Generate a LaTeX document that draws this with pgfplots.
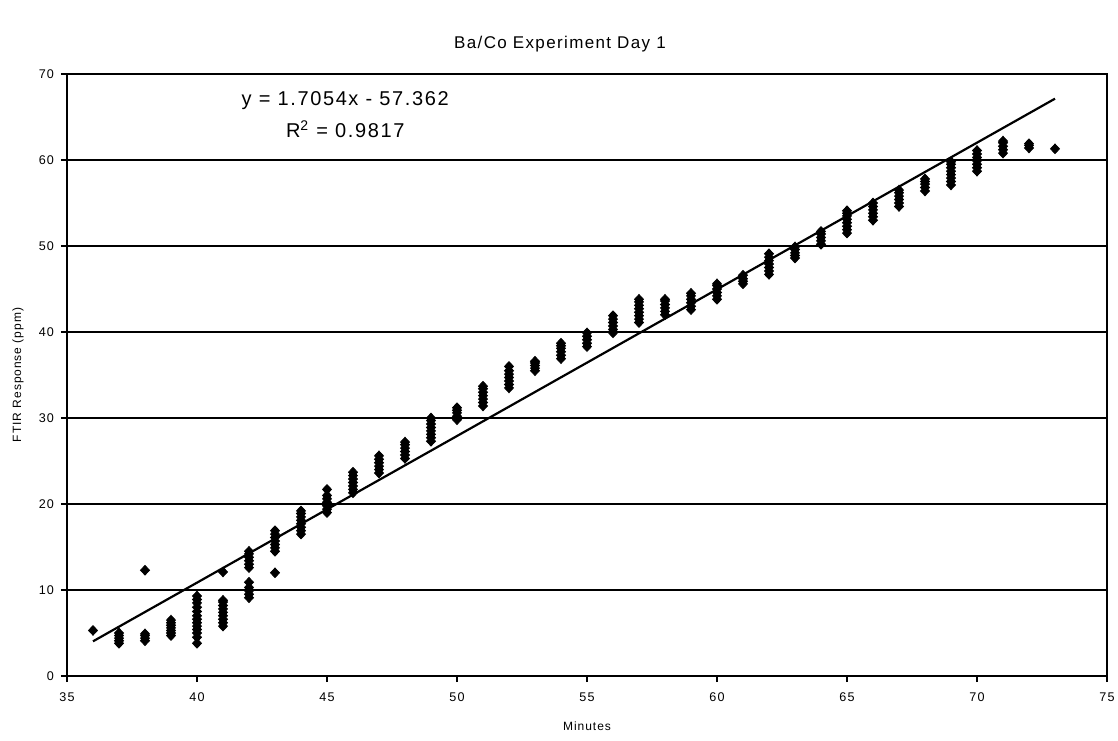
\documentclass[border=0pt]{standalone}
\usepackage{fontspec}
\setmainfont{Liberation Sans}[LetterSpace=8]
\usepackage{pgfplots}
\pgfplotsset{compat=1.18}
\pgfplotstableread{
x y
36 5.3
37 3.8
37 4.1
37 4.4
37 4.7
37 5.0
38 4.1
38 4.4
38 4.7
38 4.9
38 12.3
39 4.7
39 5.0
39 5.3
39 5.6
39 5.9
39 6.2
39 6.5
40 3.8
40 4.5
40 5.0
40 5.4
40 5.8
40 6.2
40 6.6
40 7.0
40 7.5
40 8.0
40 8.5
40 8.9
40 9.3
41 5.8
41 6.2
41 6.6
41 7.0
41 7.4
41 7.8
41 8.2
41 8.6
41 8.8
41 12.1
42 9.1
42 9.5
42 9.9
42 10.3
42 10.9
42 12.6
42 13.0
42 13.4
42 13.8
42 14.2
42 14.5
43 12.0
43 14.5
43 14.9
43 15.3
43 15.7
43 16.1
43 16.5
43 16.9
44 16.5
44 16.9
44 17.3
44 17.7
44 18.1
44 18.5
44 18.9
44 19.2
45 19.0
45 19.4
45 19.8
45 20.2
45 20.6
45 21.0
45 21.7
46 21.3
46 21.7
46 22.1
46 22.5
46 22.9
46 23.3
46 23.7
47 23.6
47 24.0
47 24.4
47 24.8
47 25.2
47 25.6
48 25.3
48 25.7
48 26.1
48 26.5
48 26.9
48 27.2
49 27.3
49 27.7
49 28.1
49 28.5
49 28.9
49 29.3
49 29.7
49 30.0
50 29.8
50 30.2
50 30.6
50 30.9
50 31.2
51 31.4
51 31.8
51 32.2
51 32.6
51 33.0
51 33.4
51 33.7
52 33.5
52 33.9
52 34.3
52 34.7
52 35.1
52 35.5
52 36.0
53 35.5
53 35.8
53 36.1
53 36.4
53 36.6
54 36.9
54 37.3
54 37.7
54 38.1
54 38.4
54 38.7
55 38.3
55 38.7
55 39.1
55 39.5
55 39.9
56 39.9
56 40.3
56 40.7
56 41.1
56 41.5
56 41.9
57 41.1
57 41.5
57 41.9
57 42.3
57 42.7
57 43.1
57 43.5
57 43.8
58 42.0
58 42.4
58 42.8
58 43.2
58 43.6
58 43.8
59 42.6
59 43.0
59 43.4
59 43.8
59 44.2
59 44.5
60 43.8
60 44.2
60 44.6
60 45.0
60 45.4
60 45.6
61 45.6
61 45.9
61 46.2
61 46.6
62 46.7
62 47.1
62 47.5
62 47.9
62 48.3
62 48.7
62 49.1
63 48.6
63 48.9
63 49.2
63 49.6
63 49.9
64 50.2
64 50.6
64 51.0
64 51.4
64 51.7
65 51.5
65 51.9
65 52.3
65 52.7
65 53.1
65 53.5
65 53.8
65 54.1
66 53.0
66 53.4
66 53.8
66 54.2
66 54.6
66 55.0
67 54.6
67 55.0
67 55.4
67 55.8
67 56.2
67 56.5
68 56.4
68 56.8
68 57.2
68 57.5
68 57.8
69 57.1
69 57.5
69 57.9
69 58.3
69 58.7
69 59.1
69 59.5
69 59.8
70 58.7
70 59.1
70 59.5
70 59.9
70 60.3
70 60.7
70 61.1
71 60.8
71 61.2
71 61.6
71 62.0
71 62.2
72 61.4
72 61.7
72 61.9
73 61.3
}\datatable
\begin{document}
\begin{tikzpicture}
\path[use as bounding box] (0,0) rectangle (559pt,370pt);
\begin{axis}[
  at={(33.5pt,32pt)}, anchor=south west,
  scale only axis, width=520pt, height=301pt,
  xmin=35, xmax=75, ymin=0, ymax=70,
  xtick={35,40,...,75}, ytick={0,10,...,70},
  tick align=outside, xtick pos=bottom, ytick pos=left,
  major tick length=3pt,
  ymajorgrids, grid style={black, line width=0.6pt},
  axis line style={black, line width=0.7pt},
  tick style={black, line width=0.6pt},
  ticklabel style={font=\fontsize{6.3}{7}\selectfont},
  xticklabel style={yshift=-2pt},
  /pgf/number format/assume math mode=true,
  xlabel={Minutes}, ylabel={FTIR Response (ppm)},
  label style={font=\fontsize{6}{7}\selectfont},
  xlabel style={at={(axis description cs:0.5,-0.083)}, anchor=center},
  ylabel style={at={(axis description cs:-0.047,0.5)}, anchor=center},
  title={Ba/Co Experiment Day 1},
  title style={at={(axis description cs:0.474,1.03)}, anchor=center, font=\fontsize{8.5}{9}\selectfont},
  clip=false,
]
\addplot[only marks, mark=diamond*, mark size=2.4pt, mark options={xscale=1.25, fill=black, draw=black}] table[x=x, y=y] {\datatable};
\addplot[black, line width=1.1pt] coordinates {(36,4.032) (73,67.132)};
\node[font=\fontsize{10}{12}\selectfont] at (axis cs:45.7,66.9) {y = 1.7054x - 57.362};
\node[font=\fontsize{10}{12}\selectfont] at (axis cs:45.7,63.6) {R\textsuperscript{2} = 0.9817};
\end{axis}
\end{tikzpicture}
\end{document}
